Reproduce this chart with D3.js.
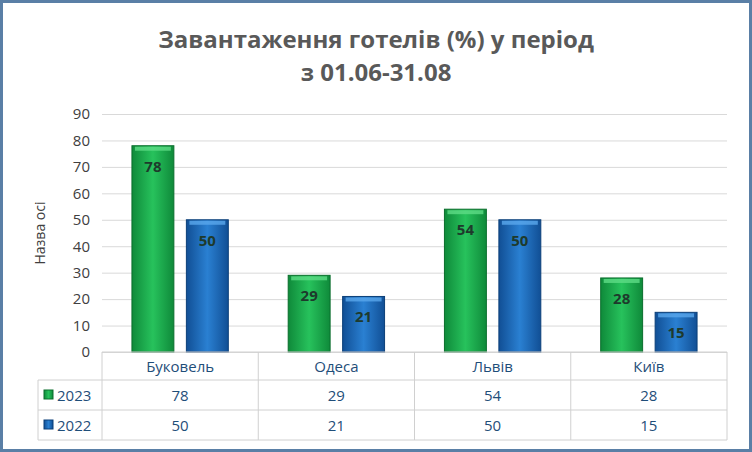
<!DOCTYPE html><html><head><meta charset="utf-8"><script src="https://d3js.org/d3.v7.min.js"></script>
<style>body{margin:0;background:#fff}</style></head><body><svg id="c" width="752" height="452"></svg>
<script>
const categories=["Буковель","Одеса","Львів","Київ"];
const series=["2023","2022"];
const v2023=[78,29,54,28];
const v2022=[50,21,50,15];
const ticks=[0,10,20,30,40,50,60,70,80,90];
const svg=d3.select("#c");
const defs=svg.append("defs");
function grad(id,c0,c1,c2){const g=defs.append("linearGradient").attr("id",id).attr("x1",0).attr("x2",1).attr("y1",0).attr("y2",0);
g.append("stop").attr("offset","0%").attr("stop-color",c0);g.append("stop").attr("offset","50%").attr("stop-color",c1);g.append("stop").attr("offset","100%").attr("stop-color",c2);}
grad("g0","#0f8a3a","#27c25c","#0f8a3a");grad("g1","#114f95","#2a80d2","#114f95");
const fills=["url(#g0)","url(#g1)"],tops=["#5edc86","#5aa8ec"],edges=["#0a6e2c","#0b3f78"];
svg.append("rect").attr("x",1.5).attr("y",1.5).attr("width",749).attr("height",449).attr("fill","#fff").attr("stroke","#5a7fa6").attr("stroke-width",3);
svg.append("text").attr("x",376).attr("y",48).attr("text-anchor","middle").attr("font-family","Open Sans, sans-serif").attr("font-weight","bold").attr("font-size",24).attr("fill","#595959").text("Завантаження готелів (%) у період");
svg.append("text").attr("x",376).attr("y",81).attr("text-anchor","middle").attr("font-family","Open Sans, sans-serif").attr("font-weight","bold").attr("font-size",24).attr("fill","#595959").text("з 01.06-31.08");
const L=102,R=727;
const x=d3.scaleBand().domain(categories).range([L,R]);
const y=d3.scaleLinear().domain([0,90]).range([352,114]);
const grid=svg.append("g").attr("transform","translate(0,0)").call(d3.axisLeft(y).tickValues(ticks).tickSize(-(R-L)).tickFormat(d3.format("d")));
grid.attr("transform",`translate(${L},0)`);grid.select(".domain").remove();
grid.selectAll("line").attr("stroke","#d9d9d9");
grid.selectAll("text").attr("font-family","Open Sans, sans-serif").attr("font-size",15).attr("fill","#404040").attr("x",-12);
svg.append("text").attr("transform","translate(45,233) rotate(-90)").attr("text-anchor","middle").attr("font-family","Open Sans, sans-serif").attr("font-size",14).attr("fill","#404040").text("Назва осі");
const xs=d3.scaleBand().domain(series).range([0,x.bandwidth()]).paddingInner(0.23).paddingOuter(0.55);
[v2023,v2022].forEach((vals,si)=>{
 const g=svg.append("g");
 vals.forEach((v,i)=>{const bx=x(categories[i])+xs(series[si]),w=xs.bandwidth(),by=y(v);
  g.append("rect").attr("x",bx).attr("y",by).attr("width",w).attr("height",y(0)-by).attr("fill",fills[si]).attr("stroke",edges[si]).attr("stroke-width",1);
  g.append("rect").attr("x",bx+3).attr("y",by+1).attr("width",w-6).attr("height",4).attr("fill",tops[si]).attr("opacity",0.8);
  g.append("text").attr("x",bx+w/2).attr("y",by+26).attr("text-anchor","middle").attr("font-family","Open Sans, sans-serif").attr("font-weight","bold").attr("font-size",15).attr("fill","#1e3a2c").text(v);
 });
});
// table
const rows=[352,380,410,440];
const tc="#d0d0d0";
svg.append("line").attr("x1",L).attr("x2",R).attr("y1",352).attr("y2",352).attr("stroke",tc);
[380,410,440].forEach(yy=>svg.append("line").attr("x1",38).attr("x2",R).attr("y1",yy).attr("y2",yy).attr("stroke",tc));
svg.append("line").attr("x1",38).attr("x2",38).attr("y1",380).attr("y2",440).attr("stroke",tc);
categories.forEach(c=>svg.append("line").attr("x1",x(c)).attr("x2",x(c)).attr("y1",352).attr("y2",440).attr("stroke",tc));
svg.append("line").attr("x1",R).attr("x2",R).attr("y1",352).attr("y2",440).attr("stroke",tc);
const tf="Open Sans, sans-serif",col="#1f4e79";
categories.forEach((c,i)=>{const cx=x(c)+x.bandwidth()/2;
 svg.append("text").attr("x",cx).attr("y",372).attr("text-anchor","middle").attr("font-family",tf).attr("font-size",15).attr("fill",col).text(c);
 svg.append("text").attr("x",cx).attr("y",401).attr("text-anchor","middle").attr("font-family",tf).attr("font-size",15).attr("fill",col).text(v2023[i]);
 svg.append("text").attr("x",cx).attr("y",431).attr("text-anchor","middle").attr("font-family",tf).attr("font-size",15).attr("fill",col).text(v2022[i]);
});
series.forEach((s,si)=>{const yy=si?425:395;
 svg.append("rect").attr("x",44).attr("y",yy-5).attr("width",9).attr("height",9).attr("fill",fills[si]).attr("stroke",edges[si]);
 svg.append("text").attr("x",57).attr("y",yy+6).attr("font-family",tf).attr("font-size",15).attr("fill",col).text(s);
});
</script></body></html>
